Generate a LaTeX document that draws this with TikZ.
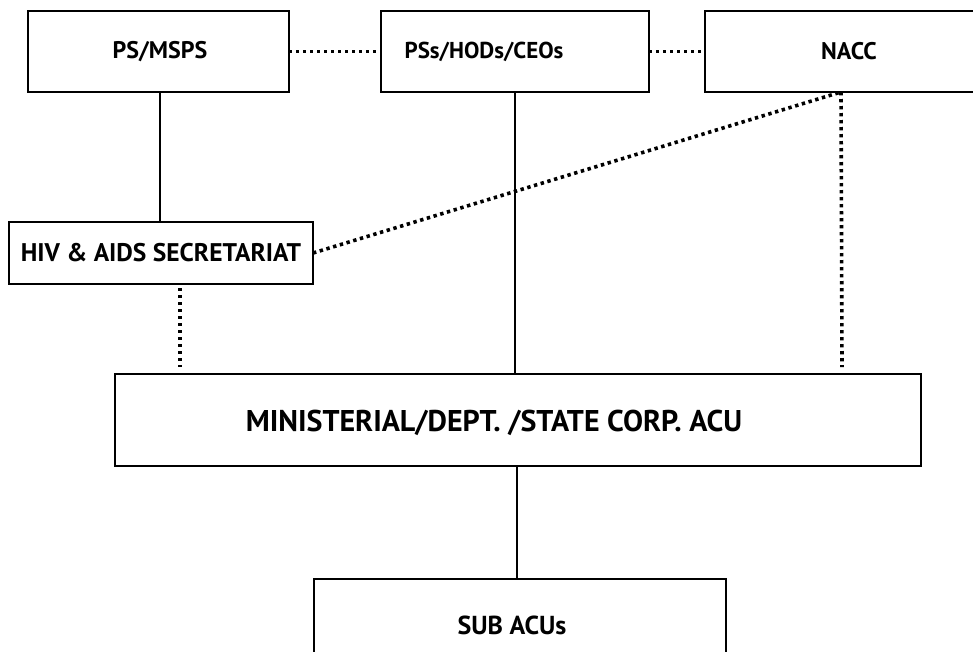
\documentclass[tikz,border=0pt]{standalone}
\usepackage{fontspec}
\setmainfont{PT Sans}
\begin{document}
\begin{tikzpicture}[x=1pt,y=-1pt,
  box/.style={draw, line width=1.8pt, rectangle, inner sep=0pt, outer sep=0pt},
  lbl/.style={font=\fontsize{24}{28}\selectfont\bfseries, inner sep=0pt},
  biglbl/.style={font=\fontsize{30}{34}\selectfont\bfseries, inner sep=0pt},
  solidline/.style={line width=1.4pt},
  dotline/.style={line width=3.6pt, dash pattern=on 3.4pt off 3.6pt}]
\useasboundingbox (0,0) rectangle (973,651);
% boxes
\node[box, minimum width=261pt, minimum height=81pt] (ps) at (158.5,51.5) {};
\node[box, minimum width=268pt, minimum height=81pt] (psh) at (515,51.5) {};
\node[box, minimum width=300pt, minimum height=81pt] (nacc) at (855,51.5) {};
\node[box, minimum width=304pt, minimum height=62pt] (hiv) at (161,253) {};
\node[box, minimum width=806pt, minimum height=92pt] (min) at (518,420) {};
\node[box, minimum width=412pt, minimum height=92pt] (sub) at (520,625) {};
% texts
\node[lbl] (psT) at (160,51.5) {PS/MSPS};
\node[lbl, font=\fontsize{23}{27}\selectfont\bfseries] (pshT) at (484,51.5) {PSs/HODs/CEOs};
\node[lbl] (naccT) at (849,51.5) {NACC};
\node[lbl, font=\fontsize{25.5}{29}\selectfont\bfseries] (hivT) at (161,253) {HIV \& AIDS SECRETARIAT};
\node[biglbl] (minT) at (494,423) {MINISTERIAL/DEPT. /STATE CORP. ACU};
\node[lbl, font=\fontsize{26}{30}\selectfont\bfseries] (subT) at (512,625) {SUB ACUs};
% helper coordinates
\coordinate (naccfoot) at (841,92);
\coordinate (naccdrop) at (842,367);
\coordinate (hivdrop1) at (180,288);
\coordinate (hivdrop2) at (180,367);
% solid connectors
\draw[solidline] (ps.south -| 160,0) -- (hiv.north -| 160,0);
\draw[solidline] (psh.south) -- (psh.south |- min.north);
\draw[solidline] (min.south -| 517,0) -- (sub.north -| 517,0);
% dotted connectors
\draw[dotline] (ps.east) -- (psh.west);
\draw[dotline] (psh.east) -- (nacc.west);
\draw[dotline] (hiv.east) -- (naccfoot);
\draw[dotline] (naccfoot) -- (naccdrop);
\draw[dotline] (hivdrop1) -- (hivdrop2);
\end{tikzpicture}
\end{document}
